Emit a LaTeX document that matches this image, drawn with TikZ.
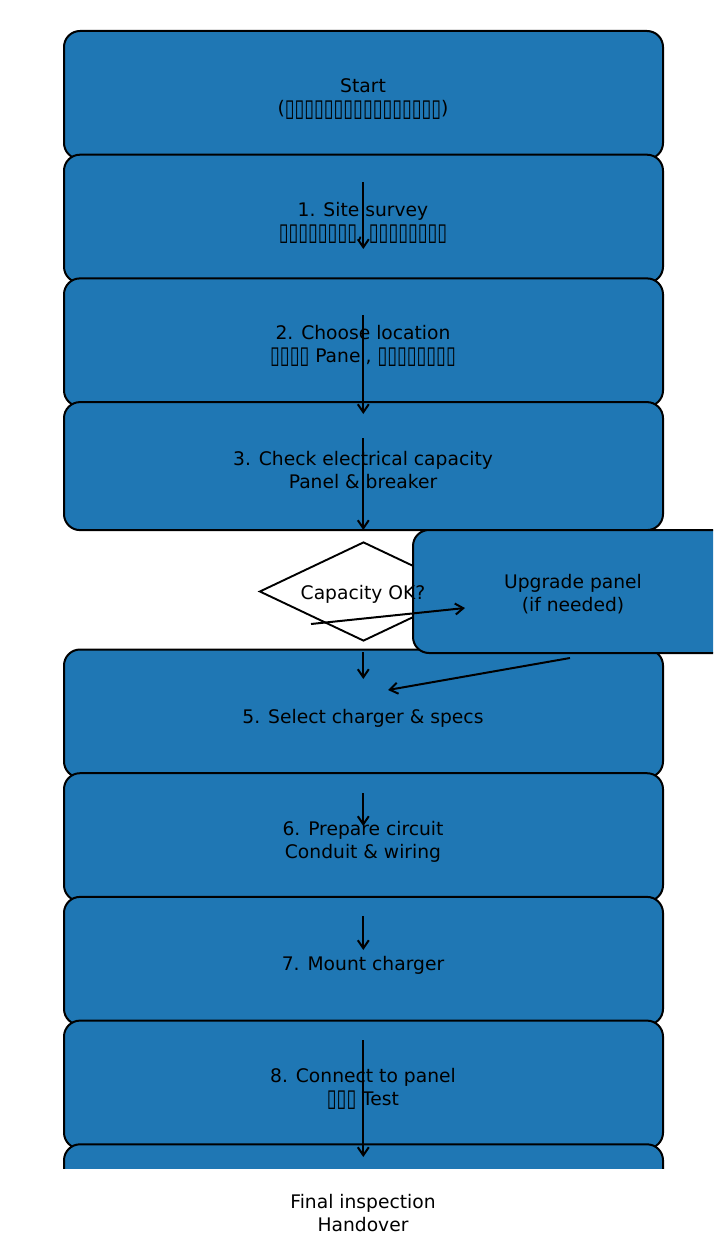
\documentclass[tikz,border=0pt]{standalone}
\usepackage{fontspec}
\setmainfont{DejaVu Sans}
\usetikzlibrary{arrows.meta,shapes.geometric}
\definecolor{mplblue}{HTML}{1F77B4}
\newcommand{\tf}{\raisebox{-0.08em}{\scalebox{0.95}[1.3]{▯}}}
\tikzset{
  stepbox/.style={draw=black, fill=mplblue, line width=2pt, rounded corners=16pt,
    minimum width=599pt, minimum height=128pt, inner sep=0pt},
  decbox/.style={draw=black, fill=white, line width=1.9pt, diamond, inner sep=0pt,
    minimum width=208pt, minimum height=99pt},
  lbl/.style={align=center, font=\fontsize{18.7}{22.4}\selectfont, text=black, inner sep=0pt},
  conn/.style={-{Straight Barb[length=8pt,width=11pt]}, line width=2pt, draw=black},
}
\begin{document}
\begin{tikzpicture}[x=1pt,y=-1pt]
\useasboundingbox (0,0) rectangle (727,1246);
\begin{scope}
  \clip (0,0) rectangle (713,1168);
  \node[stepbox] (b0) at (363.5,95) {};
  \node[stepbox] (b1) at (363.5,218.7) {};
  \node[stepbox] (b2) at (363.5,342.4) {};
  \node[stepbox] (b3) at (363.5,466.1) {};
  \node[stepbox] (b5) at (363.5,713.5) {};
  \node[stepbox] (b6) at (363.5,837.2) {};
  \node[stepbox] (b7) at (363.5,960.9) {};
  \node[stepbox] (b8) at (363.5,1084.6) {};
  \node[stepbox] (b9) at (363.5,1208.3) {};
  \node[decbox] (d4) at (363.5,591.5) {};
  \node[stepbox, minimum width=320pt, minimum height=123pt] (up) at (573,591.5) {};
\end{scope}
\node[lbl] (t0) at (363,99) {Start\\(\tf\tf\tf\tf\tf\tf\tf\tf\tf\tf\tf\tf\tf\tf\tf\tf)};
\node[lbl] (t1) at (363,223) {1. Site survey\\\tf\tf\tf\tf\tf\tf\tf\tf, \tf\tf\tf\tf\tf\tf\tf\tf};
\node[lbl] (t2) at (363,346) {2. Choose location\\\tf\tf\tf\tf{} Panel, \tf\tf\tf\tf\tf\tf\tf\tf};
\node[lbl] (t3) at (363,470) {3. Check electrical capacity\\Panel \& breaker};
\node[lbl] (t4) at (363,594) {Capacity OK?};
\node[lbl] (tu) at (573,594) {Upgrade panel\\(if needed)};
\node[lbl] (t5) at (363,718) {5. Select charger \& specs};
\node[lbl] (t6) at (363,842) {6. Prepare circuit\\Conduit \& wiring};
\node[lbl] (t7) at (363,965) {7. Mount charger};
\node[lbl] (t8) at (363,1089) {8. Connect to panel\\\tf\tf\tf{} Test};
\node[lbl] (t9) at (363,1213) {Final inspection\\Handover};
\coordinate (a1s) at (363.3,182);  \coordinate (a1e) at (363.3,249);
\coordinate (a2s) at (363.3,315);  \coordinate (a2e) at (363.3,414);
\coordinate (a3s) at (363.3,438);  \coordinate (a3e) at (363.3,530);
\coordinate (a4s) at (311,624);    \coordinate (a4e) at (465,608);
\coordinate (a5s) at (363.3,652);  \coordinate (a5e) at (363.3,679);
\coordinate (a6s) at (570,658);    \coordinate (a6e) at (388,690);
\coordinate (a7s) at (363.3,793);  \coordinate (a7e) at (363.3,826);
\coordinate (a8s) at (363.3,916);  \coordinate (a8e) at (363.3,950);
\coordinate (a9s) at (363.3,1040); \coordinate (a9e) at (363.3,1157);
\draw[conn] (a1s) -- (a1e);
\draw[conn] (a2s) -- (a2e);
\draw[conn] (a3s) -- (a3e);
\draw[conn] (a4s) -- (a4e);
\draw[conn] (a5s) -- (a5e);
\draw[conn] (a6s) -- (a6e);
\draw[conn] (a7s) -- (a7e);
\draw[conn] (a8s) -- (a8e);
\draw[conn] (a9s) -- (a9e);
\end{tikzpicture}
\end{document}
